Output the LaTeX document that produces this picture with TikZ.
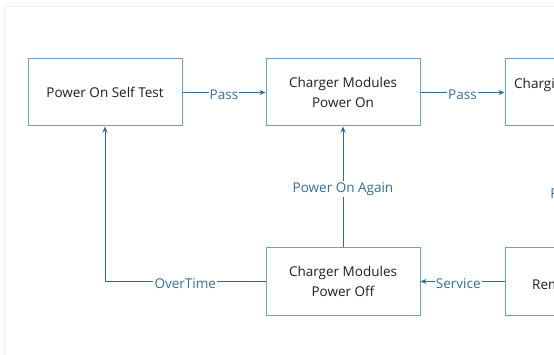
\documentclass[tikz,border=0pt]{standalone}
\usepackage{fontspec}
\setmainfont{Open Sans}
\usetikzlibrary{arrows.meta}
\definecolor{boxc}{RGB}{100,163,202}
\definecolor{linec}{RGB}{45,105,145}
\definecolor{labc}{RGB}{50,110,160}
\definecolor{txtc}{RGB}{30,30,30}
\tikzset{
  box/.style={draw=boxc, line width=1pt, minimum width=154pt, minimum height=67pt,
    align=center, font=\fontsize{13.5}{19.5}\selectfont, text=txtc, inner sep=0pt},
  conn/.style={draw=linec, line width=0.9pt, -{Stealth[length=6pt,width=5pt]}},
  plain/.style={draw=linec, line width=0.9pt},
  lab/.style={fill=white, text=labc, font=\fontsize{13.5}{15}\selectfont, inner sep=1.2pt, yshift=-2pt},
  btxt/.style={text=txtc, font=\fontsize{13.5}{19.5}\selectfont, inner sep=0pt}
}
\begin{document}
\begin{tikzpicture}[x=1pt,y=-1pt]
\useasboundingbox (0,0) rectangle (554,355);
\clip (0,0) rectangle (554,355);
\fill[white] (0,0) rectangle (554,355);
\draw[black!6, line width=0.8pt] (4,355) -- (4,6) -- (554,6);
% boxes
\node[box] (post) at (105,92.5) {Power On Self Test};
\node[box] (on) at (343,92.5) {Charger Modules\\Power On};
\node[box] (off) at (343,281.5) {Charger Modules\\Power Off};
\node[box] (chg) at (582,92.5) {};
\node[box] (rem) at (582,281.5) {};
\node[btxt, anchor=base west] (chgt) at (514,89) {Charging};
\node[btxt, anchor=base west] (remt) at (532,290) {Remote};
% connectors
\draw[conn] (post.east) -- node[lab] {Pass} (on.west);
\draw[conn] (on.east) -- node[lab] {Pass} (chg.west);
\draw[conn] (off.north) -- node[lab] {Power On Again} (on.south);
\coordinate (corner) at (post.south |- off.west);
\draw[plain] (off.west) -- node[lab] {OverTime} (corner);
\draw[conn] (corner) -- (post.south);
\draw[conn] (rem.west) -- node[lab, pos=0.55] {Service} (off.west -| off.east);
\node[lab, anchor=west] (fault) at (549,191) {Fault};
\end{tikzpicture}
\end{document}
